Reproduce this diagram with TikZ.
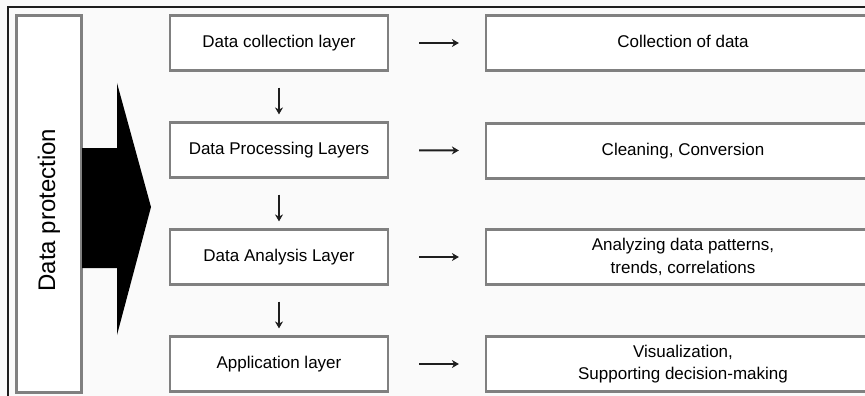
\documentclass[tikz,border=0pt]{standalone}
\usepackage{fontspec}
\setmainfont{Liberation Sans}
\usetikzlibrary{arrows.meta}
\definecolor{boxline}{RGB}{128,128,128}
\definecolor{ink}{RGB}{30,30,30}
\definecolor{paper}{RGB}{250,250,250}
\tikzset{
  x=1pt, y=-1pt,
  layerbox/.style={draw=boxline, line width=2.2pt, fill=white, minimum width=218pt,
    minimum height=55pt, font=\fontsize{17}{22.5}\selectfont, align=center, inner sep=0pt},
  resultbox/.style={layerbox, minimum width=394pt},
  flowdown/.style={draw=ink, line width=1.4pt, -{Stealth[length=7pt,width=8pt]},
    shorten <=16pt, shorten >=7pt},
  flowright/.style={draw=ink, line width=2pt, -{Stealth[length=7pt,width=8pt]},
    shorten <=30pt, shorten >=26pt},
}
\begin{document}
\begin{tikzpicture}
  \useasboundingbox (0,0) rectangle (865,396);
  \clip (0,0) rectangle (865,396);
  \fill[paper] (0,0) rectangle (865,396);
  % outer frame lines
  \draw[ink, line width=1.4pt] (8,396) -- (8,7) -- (866,7);

  % protection column
  \node[draw=boxline, line width=2.2pt, fill=white, minimum width=65pt, minimum height=377pt,
        inner sep=0pt] (prot) at (49,204) {};
  \node[rotate=90, font=\fontsize{24}{28}\selectfont] (protlabel) at (49,210) {Data protection};

  % big black arrow
  \fill[black] (82,148) -- (117,148) -- (117,83) -- (151,207) -- (117,335)
               -- (117,268) -- (82,268) -- cycle;

  % layer boxes
  \node[layerbox] (m1) at (279,43)  {Data collection layer\vphantom{g}};
  \node[layerbox] (m2) at (279,150) {Data Processing Layers};
  \node[layerbox] (m3) at (279,257) {Data Analysis Layer};
  \node[layerbox] (m4) at (279,364) {Application layer};

  % result boxes
  \node[resultbox] (r1) at (683,43)  {Collection of data\vphantom{g}};
  \node[resultbox] (r2) at (683,151) {Cleaning, Conversion};
  \node[resultbox] (r3) at (683,257) {Analyzing data patterns,\\trends, correlations};
  \node[resultbox] (r4) at (683,364) {Visualization,\\Supporting decision-making};

  % connectors
  \draw[flowdown] (m1) -- (m2);
  \draw[flowdown] (m2) -- (m3);
  \draw[flowdown] (m3) -- (m4);
  \draw[flowright] (m1) -- (r1);
  \draw[flowright] (m2) -- (r2);
  \draw[flowright] (m3) -- (r3);
  \draw[flowright] (m4) -- (r4);
\end{tikzpicture}
\end{document}
